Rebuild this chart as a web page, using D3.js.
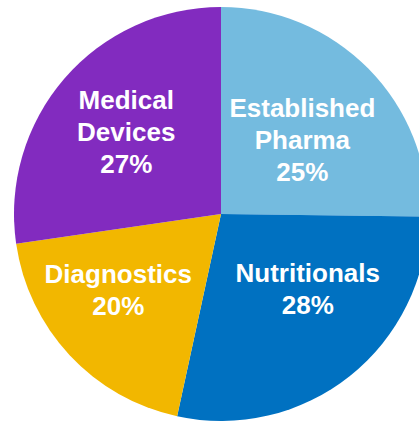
<!DOCTYPE html>
<html>
<head>
<meta charset="utf-8">
<script src="https://cdn.jsdelivr.net/npm/d3@7"></script>
<style>
  html, body { margin: 0; padding: 0; background: #fff; }
  svg { display: block; }
</style>
</head>
<body>
<div id="display"></div>
<script>
// segments, clockwise from 12 o'clock
const categories = ["Established Pharma", "Nutritionals", "Diagnostics", "Medical Devices"]
const shares = [25.2, 28.2, 19.3, 27.3]
const labelLines = [["Established", "Pharma"], ["Nutritionals"], ["Diagnostics"], ["Medical", "Devices"]]
const pctLabels = ["25%", "28%", "20%", "27%"]
const colors = ["#74bbdf", "#0071c1", "#f2b700", "#822bbf"]

function chart(parentNode)
{
  let width = 419
  let height = 422
  let cx = 221, cy = 214, radius = 207

  // small per-slice nudges so labels sit where the original put them
  let nudge = [[-4, 10], [12, -19], [-15, -6], [-4, -3]]

  const svg = d3.create("svg")
      .attr("width", width)
      .attr("height", height)
      .attr("viewBox", [0, 0, width, height])

  const data = categories.map((c, i) => ({name: c, value: shares[i], lines: labelLines[i], pct: pctLabels[i], i}))

  const pie = d3.pie().sort(null).value(d => d.value)
  const arc = d3.arc().innerRadius(0).outerRadius(radius)
  const labelArc = d3.arc().innerRadius(120).outerRadius(120)
  const color = d3.scaleOrdinal(categories, colors)

  const arcs = pie(data)

  const g = svg.append("g")
      .attr("transform", `translate(${cx},${cy})`)

  g.selectAll("path")
    .data(arcs)
    .join("path")
      .attr("d", arc)
      .attr("fill", d => color(d.data.name))

  const lineH = 32
  const labels = g.selectAll("text")
    .data(arcs)
    .join("text")
      .attr("text-anchor", "middle")
      .attr("fill", "#fff")
      .attr("font-family", "'Liberation Sans', Arial, sans-serif")
      .attr("font-weight", "bold")
      .attr("font-size", 26)
      .attr("transform", d => {
        const [x, y] = labelArc.centroid(d)
        const n = nudge[d.data.i]
        return `translate(${x + n[0]},${y + n[1]})`
      })

  labels.each(function(d) {
    const rows = [...d.data.lines, d.data.pct]
    const top = -((rows.length - 1) * lineH) / 2 + 9
    d3.select(this).selectAll("tspan")
      .data(rows)
      .join("tspan")
        .attr("x", 0)
        .attr("y", (r, k) => top + k * lineH)
        .text(r => r)
  })

  parentNode.appendChild(svg.node())
}

document.addEventListener("DOMContentLoaded", () => {
  chart(document.getElementById("display"))
})
</script>
</body>
</html>
